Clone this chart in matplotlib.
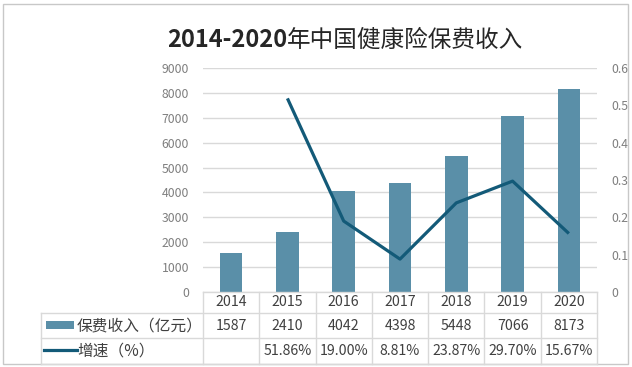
import numpy as np
import matplotlib
matplotlib.use('Agg')
import matplotlib.pyplot as plt
from matplotlib.patches import Rectangle
from matplotlib.lines import Line2D
from matplotlib.transforms import blended_transform_factory

plt.rcParams['font.family'] = ['Noto Sans CJK SC', 'DejaVu Sans']

# 数据
years = ['2014', '2015', '2016', '2017', '2018', '2019', '2020']
premium = [1587, 2410, 4042, 4398, 5448, 7066, 8173]          # 保费收入（亿元）
growth = [np.nan, 0.5186, 0.1900, 0.0881, 0.2387, 0.2970, 0.1567]  # 增速

bar_color = '#5A8FA8'
line_color = '#135A78'
grid_color = '#D9D9D9'
tick_color = '#7F7F7F'
text_color = '#404040'

W, H = 632, 367
fig = plt.figure(figsize=(W / 100, H / 100), dpi=100)

def fx(px):
    return px / W

def fy(py):
    return 1 - py / H

# 外框
fig.patches.append(Rectangle((fx(3), fy(364)), fx(625), 360 / H, transform=fig.transFigure,
                             fill=False, edgecolor='#C8C8C8', linewidth=1))

ax = fig.add_axes([fx(203), fy(292), fx(394), 224 / H])
x = np.arange(len(years))
ax.bar(x, premium, width=0.4, color=bar_color, zorder=2)
ax.set_xlim(-0.5, len(years) - 0.5)
ax.set_ylim(0, 9000)
ax.set_yticks(np.arange(0, 9001, 1000))
ax.grid(axis='y', color=grid_color, linewidth=1, zorder=0)
ax.set_xticks([])
for s in ax.spines.values():
    s.set_visible(False)
ax.tick_params(axis='y', length=0, pad=10, labelsize=8.8, labelcolor=tick_color)

ax2 = ax.twinx()
ax2.plot(x, growth, color=line_color, linewidth=2.3, solid_capstyle='butt', zorder=3)
ax2.set_ylim(0, 0.6)
ax2.set_yticks(np.arange(0, 0.61, 0.1))
ax2.set_yticklabels(['0' if v == 0 else f'{v:.1f}' for v in np.arange(0, 0.61, 0.1)])
for s in ax2.spines.values():
    s.set_visible(False)
ax2.tick_params(axis='y', length=0, pad=10, labelsize=8.8, labelcolor=tick_color)

# 标题：数字加粗，中文常规
t1 = fig.text(0, fy(40), '2014-2020', ha='left', va='center',
              fontsize=17, fontweight='bold', color='#262626')
t2 = fig.text(0, fy(40), '年中国健康险保费收入', ha='left', va='center',
              fontsize=17, color='#262626')
r = fig.canvas.get_renderer()
w1 = t1.get_window_extent(r).width
w2 = t2.get_window_extent(r).width
x0 = 345 - (w1 + w2) / 2
t1.set_x(fx(x0))
t2.set_x(fx(x0 + w1))

# 数据表
tr = blended_transform_factory(ax.transData, fig.transFigure)
n = len(years)
line_kw = dict(color=grid_color, linewidth=1)
fig.add_artist(Line2D([-0.5, n - 0.5], [fy(292), fy(292)], transform=tr, **line_kw))
for py in (313, 338, 364):
    fig.add_artist(Line2D([fx(41), fx(597)], [fy(py), fy(py)], transform=fig.transFigure, **line_kw))
for i in range(n + 1):
    fig.add_artist(Line2D([i - 0.5, i - 0.5], [fy(292), fy(364)], transform=tr, **line_kw))
fig.add_artist(Line2D([fx(41), fx(41)], [fy(313), fy(364)], transform=fig.transFigure, **line_kw))

for i in range(n):
    fig.text(i, fy(302.5), years[i], transform=tr, ha='center', va='center',
             fontsize=10.2, color=text_color)
    fig.text(i, fy(325.5), str(premium[i]), transform=tr, ha='center', va='center',
             fontsize=10.2, color=text_color)
    if not np.isnan(growth[i]):
        fig.text(i, fy(351), f'{growth[i] * 100:.2f}%', transform=tr, ha='center', va='center',
                 fontsize=10.2, color=text_color)

# 图例
fig.patches.append(Rectangle((fx(46), fy(329)), fx(28), 8 / H, transform=fig.transFigure,
                             facecolor=bar_color, edgecolor='none'))
fig.add_artist(Line2D([fx(44), fx(77)], [fy(350), fy(350)], transform=fig.transFigure,
                      color=line_color, linewidth=2.3))
fig.text(fx(77), fy(325.5), '保费收入（亿元）', ha='left', va='center', fontsize=11.3, color=text_color)
fig.text(fx(77), fy(351), '增速（%）', ha='left', va='center', fontsize=11.3, color=text_color)

plt.savefig('out.png', dpi=100)
